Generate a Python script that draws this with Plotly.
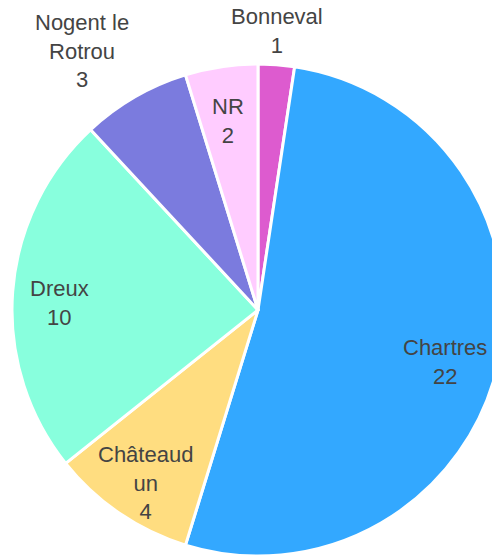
import math
import plotly.graph_objects as go

categories = ["Bonneval", "Chartres", "Châteaudun", "Dreux", "Nogent le Rotrou", "NR"]
display_labels = ["Bonneval", "Chartres", "Châteaud<br>un", "Dreux", "Nogent le<br>Rotrou", "NR"]
values = [1, 22, 4, 10, 3, 2]
colors = ["#dd5bcf", "#33a8ff", "#ffdd80", "#88ffdd", "#7b7bde", "#ffccff"]
label_outside = [True, False, False, False, True, False]

W, H = 516, 557
VIEW_W = 492
M_T, M_B = 64, 1
plot_h = H - M_T - M_B
radius_px = min(W, plot_h) / 2
FONT_SIZE = 22

fig = go.Figure(go.Pie(
    labels=categories,
    values=values,
    textinfo="none",
    sort=False,
    direction="clockwise",
    rotation=0,
    marker=dict(colors=colors, line=dict(color="#ffffff", width=3)),
    hoverinfo="label+value",
    showlegend=False,
))

total = sum(values)
cum = 0
for lab, v, outside in zip(display_labels, values, label_outside):
    mid = (cum + v / 2) / total * 2 * math.pi
    cum += v
    s, c = math.sin(mid), math.cos(mid)
    f = 1.035 if outside else 0.81
    x_px = W / 2 + f * s * radius_px
    y = 0.5 + f * c * radius_px / plot_h
    if outside:
        xa = "left" if s > 0.3 else ("right" if s < -0.3 else "center")
        ya = "bottom" if c > 0 else "top"
        ysh = -4
    else:
        xa, ya = "center", "middle"
        ysh = -8
    half_w = max(len(p) for p in lab.split("<br>")) * FONT_SIZE * 0.55 / 2
    if xa == "center" and x_px + half_w > VIEW_W - 2:
        xa = "right"
        x_px = VIEW_W - 3
    fig.add_annotation(
        x=x_px / W, y=y, xref="paper", yref="paper",
        text=f"{lab}<br>{v}", showarrow=False,
        xanchor=xa, yanchor=ya, align="center", yshift=ysh,
        font=dict(family="Liberation Sans, Arial, sans-serif", size=FONT_SIZE, color="#444444"),
    )

fig.update_layout(
    width=W,
    height=H,
    margin=dict(l=0, r=0, t=M_T, b=M_B),
    paper_bgcolor="#ffffff",
    plot_bgcolor="#ffffff",
)

fig.write_html(
    "out.html",
    config={"displayModeBar": False},
    post_script="document.body.style.overflow='hidden';document.body.style.margin='0';",
)
